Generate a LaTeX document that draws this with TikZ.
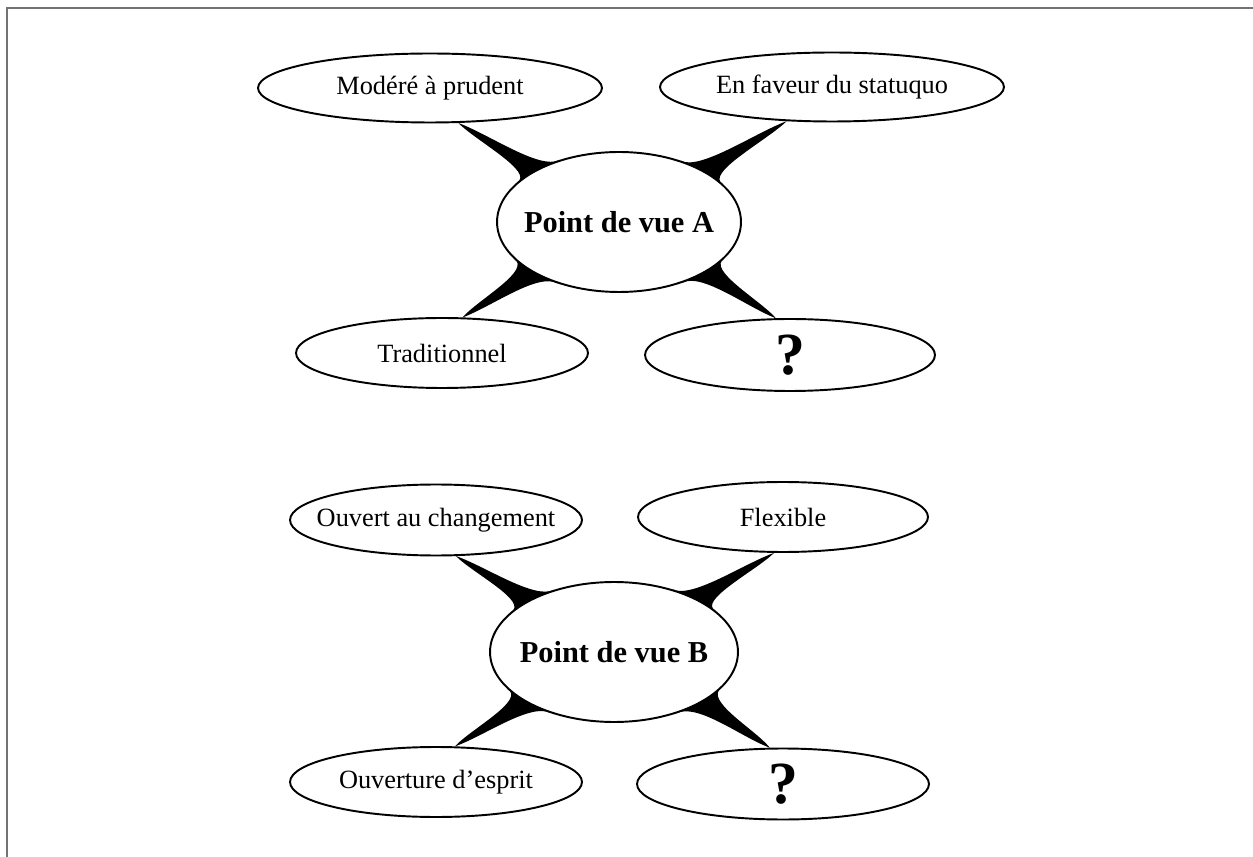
\documentclass[tikz,border=0pt]{standalone}
\usepackage{fontspec}
\setmainfont{Liberation Serif}
\usetikzlibrary{shapes.geometric,calc}
\pgfdeclarelayer{bg}
\pgfsetlayers{bg,main}
\newcommand\swoosh[3]{\fill[black] (#1) .. controls ($(#1)!0.3!(#2)$) and ($(#2)!0.45!(#3)$) .. (#2) -- (#3) .. controls ($(#3)!0.45!(#2)$) and ($(#1)!0.3!(#3)$) .. (#1) -- cycle;}
\begin{document}
\begin{tikzpicture}[x=0.02cm,y=-0.02cm,
  bub/.style={ellipse,draw=black,fill=white,line width=1.1pt,inner sep=0pt,font=\fontsize{15}{18}\selectfont},
  hub/.style={bub,font=\fontsize{17.3}{20}\selectfont\bfseries},
  qmark/.style={bub,font=\fontsize{34}{38}\selectfont\bfseries},
  frame/.style={draw=black!55,line width=1.2pt}]
\useasboundingbox (0,0) rectangle (1253,857);
\draw[frame] (7,857) -- (7,8) -- (1253,8);
% group A
\node[bub, minimum width=6.88cm, minimum height=1.38cm] (ml) at (430,88) {\makebox[0pt]{Modéré à prudent}};
\node[bub, minimum width=6.88cm, minimum height=1.38cm] (mr) at (832,87) {\makebox[0pt]{En faveur du statuquo}};
\node[hub, minimum width=4.88cm, minimum height=2.80cm] (a) at (619,222) {\makebox[0pt]{Point de vue A}};
\node[bub, minimum width=5.84cm, minimum height=1.40cm] (tr) at (442,353) {\makebox[0pt]{Traditionnel}};
\node[qmark, minimum width=5.80cm, minimum height=1.44cm] (q1) at (790,355) {\makebox[0pt]{\raisebox{-3pt}{?}}};
% group B
\node[bub, minimum width=5.84cm, minimum height=1.42cm] (oc) at (436,520) {\makebox[0pt]{Ouvert au changement}};
\node[bub, minimum width=5.80cm, minimum height=1.40cm] (fl) at (783,517) {\makebox[0pt]{Flexible}};
\node[hub, minimum width=4.96cm, minimum height=2.80cm] (b) at (614,652) {\makebox[0pt]{Point de vue B}};
\node[bub, minimum width=5.84cm, minimum height=1.40cm] (oe) at (436,782) {\makebox[0pt]{Ouverture d’esprit}};
\node[qmark, minimum width=5.84cm, minimum height=1.42cm] (q2) at (783,784) {\makebox[0pt]{\raisebox{-3pt}{?}}};
\begin{pgfonlayer}{bg}
\swoosh{ml.-51}{a.159.5}{a.134.5}
\swoosh{mr.-143}{a.45}{a.20.7}
\swoosh{tr.60.7}{a.-161.2}{a.-135}
\swoosh{q1.111.6}{a.-44}{a.-19.3}
\swoosh{oc.-61.5}{b.159.3}{b.134.1}
\swoosh{fl.-104.7}{b.47.3}{b.22.2}
\swoosh{oe.62.4}{b.-161.9}{b.-136.8}
\swoosh{q2.110}{b.-45.5}{b.-18.8}
\end{pgfonlayer}
\end{tikzpicture}
\end{document}
